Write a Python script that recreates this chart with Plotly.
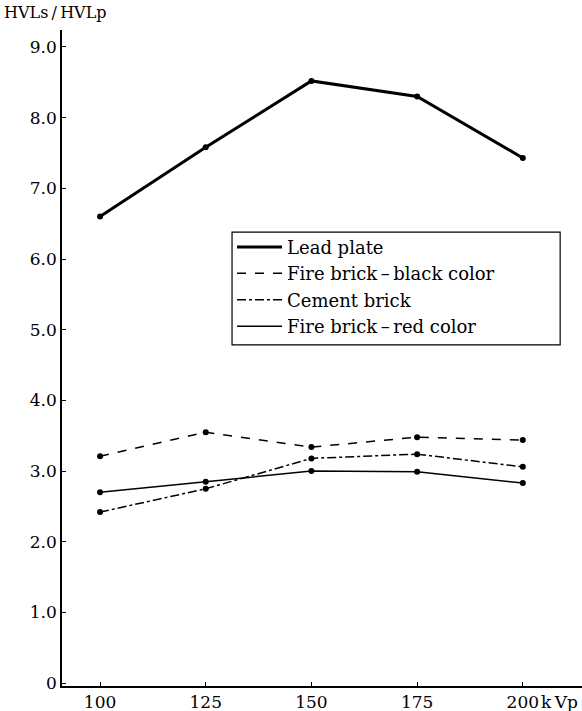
import plotly.graph_objects as go

kvp = [100, 125, 150, 175, 200]
lead_plate = [6.6, 7.58, 8.52, 8.3, 7.43]
fire_brick_black = [3.21, 3.55, 3.34, 3.48, 3.44]
cement_brick = [2.42, 2.75, 3.18, 3.24, 3.06]
fire_brick_red = [2.70, 2.85, 3.00, 2.99, 2.83]

series_names = ["Lead plate", "Fire brick\u2009\u2013\u2009black color", "Cement brick", "Fire brick\u2009\u2013\u2009red color"]
x_tick_vals = [100, 125, 150, 175, 200]
x_tick_text = ["100", "125", "150", "175", "200"]
y_tick_vals = [0, 1, 2, 3, 4, 5, 6, 7, 8, 9]
y_tick_text = ["0", "1.0", "2.0", "3.0", "4.0", "5.0", "6.0", "7.0", "8.0", "9.0"]

FONT = '"DejaVu Serif", "Liberation Serif", serif'

styles = [
    dict(width=3, dash="solid"),
    dict(width=1.5, dash="dash"),
    dict(width=1.5, dash="dashdot"),
    dict(width=1.5, dash="solid"),
]
data = [lead_plate, fire_brick_black, cement_brick, fire_brick_red]

fig = go.Figure()
for name, ys, st in zip(series_names, data, styles):
    fig.add_trace(go.Scatter(
        x=kvp, y=ys, mode="lines+markers", name=name, showlegend=False,
        line=dict(color="black", width=st["width"], dash=st["dash"]),
        marker=dict(color="black", size=6),
    ))
# legend-only entries (line without markers, as in the reference)
for name, st in zip(series_names, styles):
    fig.add_trace(go.Scatter(
        x=[None], y=[None], mode="lines", name=name, showlegend=True,
        line=dict(color="black", width=st["width"], dash=st["dash"]),
    ))

# legend frame (wider than plotly's auto-sized legend box, as in the reference)
fig.add_shape(
    type="rect", xref="paper", yref="paper",
    x0=0.327, x1=0.958, y0=0.520, y1=0.692,
    line=dict(color="black", width=1.2), fillcolor="white", layer="above",
)

fig.update_layout(
    width=582, height=711,
    margin=dict(l=62, r=0, t=30, b=25),
    paper_bgcolor="white", plot_bgcolor="white",
    font=dict(family=FONT, size=16, color="black"),
    legend=dict(
        x=0.327, y=0.697, xanchor="left", yanchor="top",
        bgcolor="rgba(0,0,0,0)", borderwidth=0,
        font=dict(family=FONT, size=18, color="black"),
        itemwidth=45, tracegroupgap=0,
    ),
    showlegend=True,
)
fig.update_xaxes(
    range=[91, 214], tickvals=x_tick_vals, ticktext=x_tick_text,
    showgrid=False, zeroline=False, showline=True, linecolor="black", linewidth=1.5,
    ticks="inside", ticklen=4, tickcolor="black",
    tickfont=dict(family=FONT, size=17, color="black"),
)
fig.update_yaxes(
    range=[-0.04, 9.24], tickvals=y_tick_vals, ticktext=y_tick_text,
    showgrid=False, zeroline=False, showline=True, linecolor="black", linewidth=1.5,
    ticks="inside", ticklen=4, tickcolor="black",
    tickfont=dict(family=FONT, size=17, color="black"),
)
fig.add_annotation(
    text="HVLs\u2009/\u2009HVLp", xref="paper", yref="paper", x=-0.115, y=1.0, yshift=29,
    xanchor="left", yanchor="top", showarrow=False,
    font=dict(family=FONT, size=16, color="black"),
)
fig.add_annotation(
    text="k\u2009Vp", xref="x", yref="paper", x=200, y=0, xshift=16, yshift=-4,
    xanchor="left", yanchor="top", showarrow=False,
    font=dict(family=FONT, size=17, color="black"),
)

fig.write_html("out.html")
